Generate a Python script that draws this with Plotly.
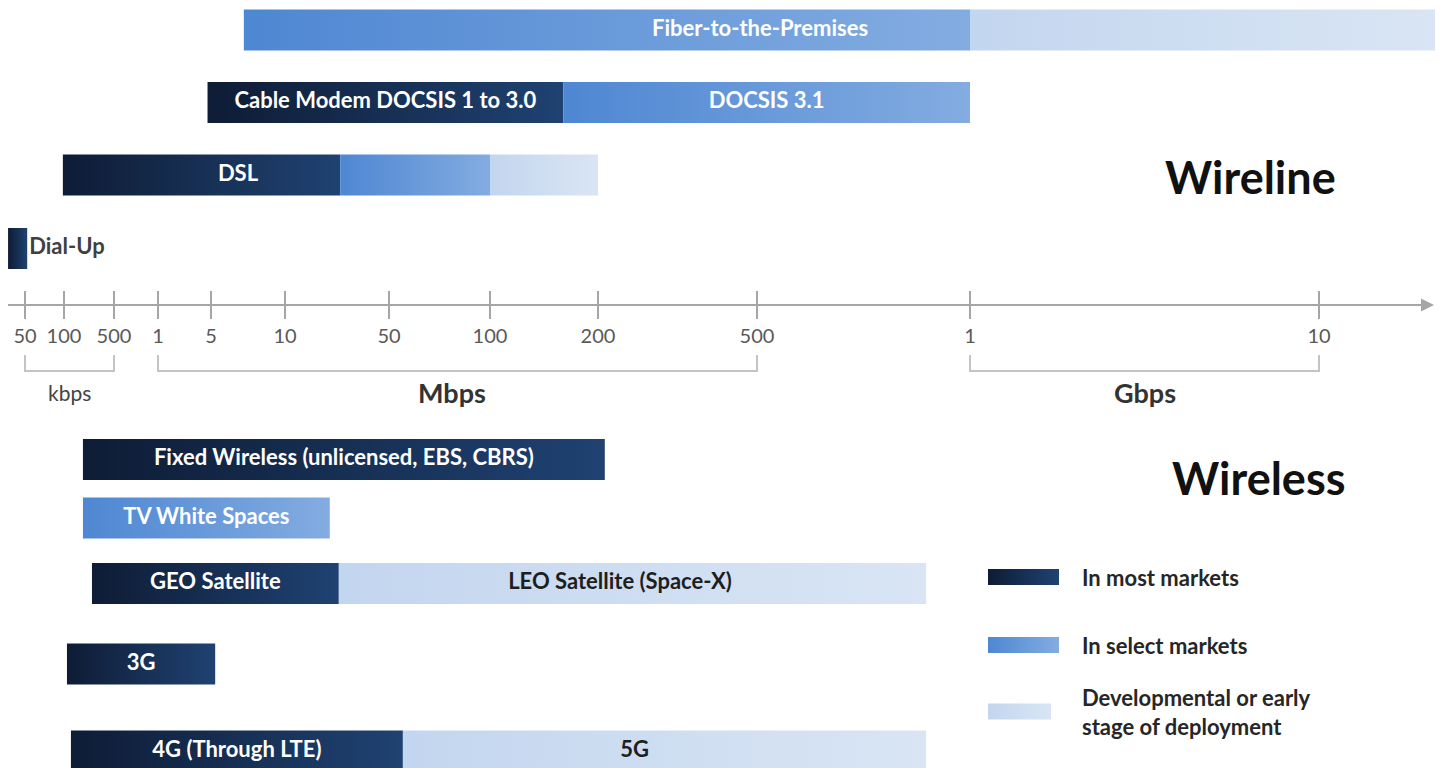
import numpy as np
import plotly.graph_objects as go

# ---------------- data ----------------
# Speed axis (schematic): tick values in Mbps and their labels
TICK_MBPS = [0.05, 0.1, 0.5, 1, 5, 10, 50, 100, 200, 500, 1000, 10000]
TICK_LABELS = ["50", "100", "500", "1", "5", "10", "50", "100", "200", "500", "1", "10"]

UNIT_NAMES = ["kbps", "Mbps", "Gbps"]
UNIT_FROM = [0.05, 1, 1000]
UNIT_TO = [0.5, 500, 10000]

# Technology segments (speeds in Mbps)
SEG_ROW = ["Fiber", "Fiber", "Cable", "Cable", "DSL", "DSL", "DSL", "Dial-Up",
           "Fixed", "TVWS", "Sat", "Sat", "3G", "Cell", "Cell"]
SEG_LABEL = ["Fiber-to-the-Premises", "", "Cable Modem DOCSIS 1 to 3.0", "DOCSIS 3.1",
             "DSL", "", "", "Dial-Up",
             "Fixed Wireless (unlicensed, EBS, CBRS)", "TV White Spaces",
             "GEO Satellite", "LEO Satellite (Space-X)", "3G", "4G (Through LTE)", "5G"]
SEG_START = [6.8, 1000, 4.5, 160, 0.098, 23.5, 100, 0.037,
             0.184, 0.184, 0.246, 23, 0.110, 0.125, 55]
SEG_END = [1000, 21500, 160, 1000, 23.5, 100, 200, 0.052,
           208, 20, 23, 867, 5.2, 55, 867]
SEG_STATUS = ["select", "dev", "most", "select", "most", "select", "dev", "most",
              "most", "select", "most", "dev", "most", "most", "dev"]
SEG_LABEL_AT = [505, None, None, None, 6.44, None, None, None,
                None, None, None, 227, None, None, 247]

LEGEND_STATUS = ["most", "select", "dev"]
LEGEND_TEXT = ["In most markets", "In select markets",
               "Developmental or early<br>stage of deployment"]

# ---------------- layout / style ----------------
W, H = 1440, 768
TICK_POS = [25, 64, 114, 158, 211, 285, 389, 490, 598, 757, 970, 1319]  # schematic scale
AXIS_Y = 305
ROW_Y = {"Fiber": 30, "Cable": 102.5, "DSL": 175, "Dial-Up": 248.5,
         "Fixed": 459.5, "TVWS": 518, "Sat": 583.5, "3G": 664, "Cell": 751}
BAR_H = 41
GRAD = {"most": ["#0e1c35", "#1f4272"],
        "select": ["#4e87d2", "#83ace1"],
        "dev": ["#c3d6ef", "#d9e5f4"]}
TXT_COL = {"most": "white", "select": "white", "dev": "#1e1e1e"}
FONT = "Lato"
GRAY = "#a6a6a6"
LABEL_SIZE = 22

LOG_T = np.log10(TICK_MBPS)


def pos(v):
    lv = np.log10(v)
    if lv <= LOG_T[0]:
        i = 0
    elif lv >= LOG_T[-1]:
        i = len(LOG_T) - 2
    else:
        i = int(np.searchsorted(LOG_T, lv, side="right") - 1)
        i = min(i, len(LOG_T) - 2)
    t = (lv - LOG_T[i]) / (LOG_T[i + 1] - LOG_T[i])
    return TICK_POS[i] + t * (TICK_POS[i + 1] - TICK_POS[i])


fig = go.Figure()


def grad_box(x0, x1, yc, h, status, xaxis="x", yaxis="y"):
    y0, y1 = yc - h / 2, yc + h / 2
    c0, c1 = GRAD[status]
    fig.add_trace(go.Scatter(
        x=[x0, x1, x1, x0, x0], y=[y0, y0, y1, y1, y0],
        mode="lines", line=dict(width=0), fill="toself",
        fillgradient=dict(type="horizontal", colorscale=[[0, c0], [1, c1]],
                          start=x0, stop=x1),
        hoverinfo="skip", showlegend=False, xaxis=xaxis, yaxis=yaxis))


# bars
for row, lab, s, e, st, la in zip(SEG_ROW, SEG_LABEL, SEG_START, SEG_END, SEG_STATUS, SEG_LABEL_AT):
    x0, x1 = pos(s), pos(e)
    grad_box(x0, x1, ROW_Y[row], BAR_H, st)

# bar labels
for row, lab, s, e, st, la in zip(SEG_ROW, SEG_LABEL, SEG_START, SEG_END, SEG_STATUS, SEG_LABEL_AT):
    if not lab:
        continue
    x0, x1 = pos(s), pos(e)
    if row == "Dial-Up":
        fig.add_trace(go.Scatter(
            x=[x1 + 2], y=[ROW_Y[row]], mode="text", text=[lab], textposition="middle right",
            textfont=dict(family=FONT, size=22, color="#404040", weight="bold"),
            hoverinfo="skip", showlegend=False))
        continue
    xc = pos(la) if la is not None else (x0 + x1) / 2
    fig.add_trace(go.Scatter(
        x=[xc], y=[ROW_Y[row]], mode="text", text=[lab], textposition="middle center",
        textfont=dict(family=FONT, size=LABEL_SIZE, color=TXT_COL[st], weight="bold"),
        hoverinfo="skip", showlegend=False))

# unit brackets
for name, a, b in zip(UNIT_NAMES, UNIT_FROM, UNIT_TO):
    pa, pb = pos(a), pos(b)
    fig.add_trace(go.Scatter(
        x=[pa, pa, pb, pb], y=[355, 371, 371, 355], mode="lines",
        line=dict(color="#c4c4c4", width=2), hoverinfo="skip", showlegend=False))
    bold = name != "kbps"
    fig.add_annotation(
        x=(pa + pb) / 2 - (6 if name == "Mbps" else 0), y=392, xref="x", yref="y",
        text=name, showarrow=False,
        font=dict(family=FONT, size=27 if bold else 21, color="#333333" if bold else "#444444",
                  weight="bold" if bold else "normal"))

# legend
LEG_Y = [577, 645, 711.5]
for st, txt, yc in zip(LEGEND_STATUS, LEGEND_TEXT, LEG_Y):
    grad_box(988, 1059 if st != "dev" else 1051, yc, 16, st)
    fig.add_annotation(
        x=1080, y=yc, xref="x", yref="y", text=txt, showarrow=False,
        xanchor="left", yanchor="middle", align="left",
        font=dict(family=FONT, size=22, color="#262626", weight="bold"))

# section titles
fig.add_annotation(x=1250, y=177, xref="x", yref="y", text="Wireline", showarrow=False,
                   font=dict(family=FONT, size=45, color="#111111", weight="bold"))
fig.add_annotation(x=1258, y=478, xref="x", yref="y", text="Wireless", showarrow=False,
                   font=dict(family=FONT, size=45, color="#111111", weight="bold"))

# arrow head of the speed axis
fig.add_annotation(x=1434, y=AXIS_Y, ax=1415, ay=AXIS_Y, xref="x", yref="y",
                   axref="x", ayref="y", text="", showarrow=True,
                   arrowhead=2, arrowsize=1.3, arrowwidth=2, arrowcolor=GRAY)

# dummy traces to instantiate the visible speed axis (lower ticks + labels) and upper ticks
tick_x = [pos(v) for v in TICK_MBPS]
for xa in ["x2", "x3"]:
    fig.add_trace(go.Scatter(x=[tick_x[0]], y=[AXIS_Y], mode="markers",
                             marker=dict(opacity=0), hoverinfo="skip",
                             showlegend=False, xaxis=xa, yaxis="y2"))

ax_pos = 1 - AXIS_Y / H
fig.update_layout(
    width=W, height=H, margin=dict(l=0, r=0, t=0, b=0),
    paper_bgcolor="white", plot_bgcolor="rgba(0,0,0,0)",
    showlegend=False,
    xaxis=dict(range=[0, W], domain=[0, 1], visible=False, fixedrange=True),
    yaxis=dict(range=[H, 0], domain=[0, 1], visible=False, fixedrange=True),
    yaxis2=dict(range=[H, 0], domain=[0, 1], visible=False, anchor="x2", fixedrange=True),
    xaxis2=dict(range=[8, 1430], domain=[8 / W, 1430 / W], anchor="free", position=ax_pos,
                showline=True, linecolor=GRAY, linewidth=2,
                ticks="outside", ticklen=13, tickwidth=2, tickcolor=GRAY,
                tickvals=tick_x, ticktext=TICK_LABELS,
                tickfont=dict(family=FONT, size=20, color="#595959"),
                showgrid=False, zeroline=False, fixedrange=True),
    xaxis3=dict(range=[8, 1430], domain=[8 / W, 1430 / W], anchor="free", position=ax_pos,
                showline=False, ticks="inside", ticklen=14, tickwidth=2, tickcolor=GRAY,
                tickvals=tick_x, showticklabels=False,
                showgrid=False, zeroline=False, fixedrange=True),
)

fig.write_html("out.html")
